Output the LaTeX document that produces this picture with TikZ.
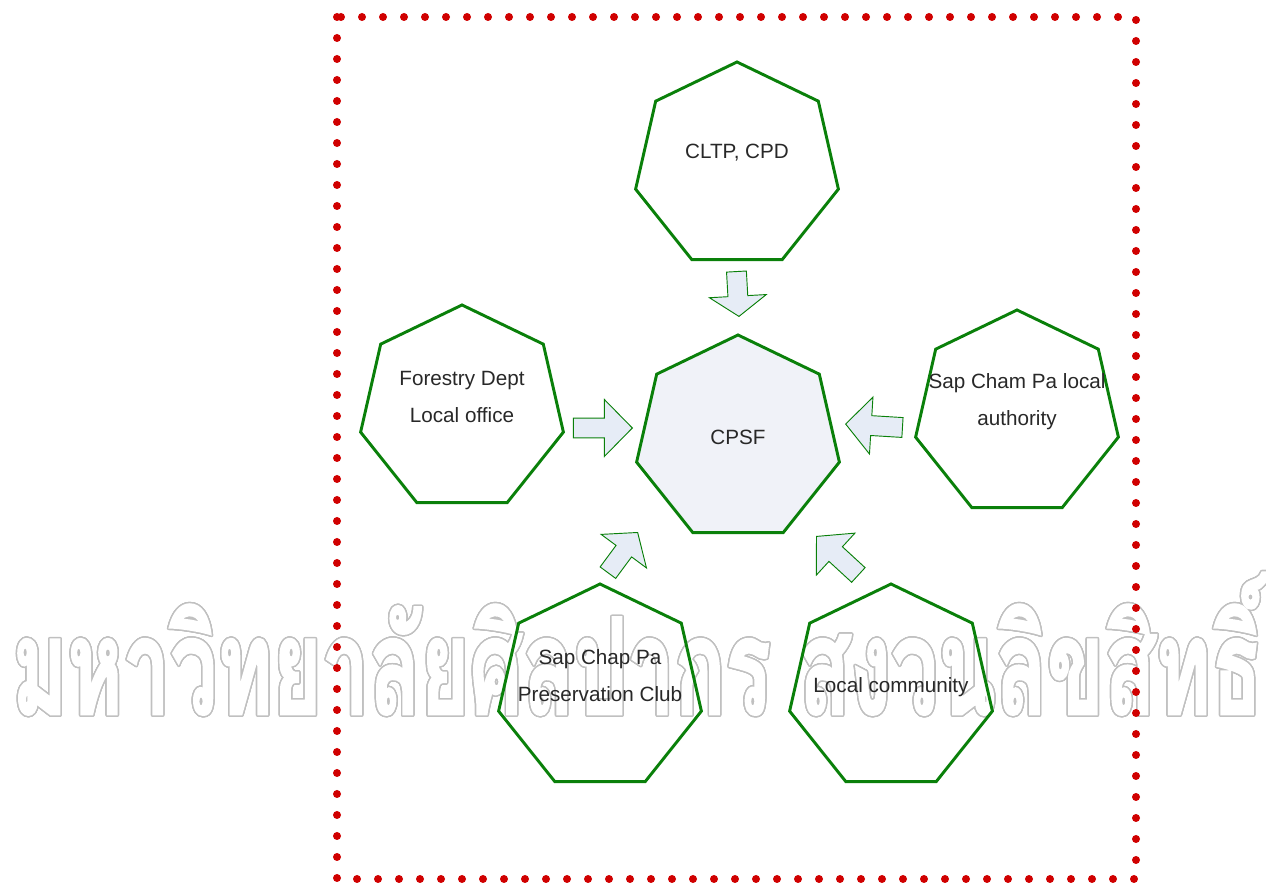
\documentclass[tikz,border=0pt]{standalone}
\usepackage{fontspec}
\setmainfont{Liberation Sans}
\newfontfamily\wmfont[Script=Thai, BoldFeatures={FakeBold=2}]{Loma}
\usepackage{contour}
\usetikzlibrary{shapes.geometric,shapes.arrows}

\definecolor{hepgreen}{RGB}{10,128,10}
\definecolor{dotred}{RGB}{208,0,0}
\definecolor{arrowfill}{RGB}{230,236,246}
\definecolor{corefill}{RGB}{240,242,248}
\definecolor{labelgray}{RGB}{40,40,40}
\definecolor{wmgray}{RGB}{192,192,192}

\contourlength{1.1pt}
\contournumber{24}

\begin{document}
\begin{tikzpicture}[x=0.75pt,y=0.75pt,
  hept/.style={regular polygon, regular polygon sides=7, minimum size=156pt,
    inner sep=0pt, outer sep=0pt, draw=hepgreen, line width=2.2pt},
  lbl/.style={font=\fontsize{15.5}{27.75}\selectfont, text=labelgray,
    align=center, inner sep=0pt},
  blockarrow/.style={single arrow, draw=hepgreen, line width=0.7pt,
    fill=arrowfill, inner sep=7.1pt, single arrow head extend=13.9pt,
    anchor=tip, minimum height=#1},
]
\useasboundingbox (0,0) rectangle (1266,884);

% watermark behind everything: hollow outlined letters
\node[anchor=base west, inner sep=0pt, text=white] (wm) at (12,170)
  {\contour{wmgray}{\resizebox{937.5pt}{106pt}{\wmfont\bfseries\fontsize{60}{60}\selectfont มหาวิทยาลัยศิลปากร สงวนลิขสิทธิ์}}};

% dotted frame
\draw[dotred, line width=6pt, line cap=round, dash pattern=on 0pt off 15.75pt]
  (337,867) rectangle (1136,5);

% heptagons
\node[hept] (cltp) at (737,718) {};
\node[hept, fill=corefill] (cpsf) at (738,445) {};
\node[hept] (forestry) at (462,475) {};
\node[hept] (champa) at (1017,470) {};
\node[hept] (chappa) at (600,196) {};
\node[hept] (community) at (891,196) {};

% labels
\node[lbl] (cltp-l) at (737,731) {CLTP, CPD};
\node[lbl] (cpsf-l) at (738,447) {CPSF};
\node[lbl] (forestry-l) at (462,487) {Forestry Dept\\Local office};
\node[lbl] (champa-l) at (1017,482) {Sap Cham Pa local\\authority};
\node[lbl] (chappa-l) at (600,208) {Sap Chap Pa\\Preservation Club};
\node[lbl] (community-l) at (891,197) {Local community};

% block arrows into the core
\node[blockarrow=33.7pt, single arrow tip angle=109, rotate=-86.8] (a-cltp) at (739,567) {};
\node[blockarrow=44.2pt, single arrow tip angle=91, rotate=0] (a-forestry) at (633,456) {};
\node[blockarrow=42.7pt, single arrow tip angle=96, rotate=176.5] (a-champa) at (845,460) {};
\node[blockarrow=37.5pt, single arrow tip angle=101, rotate=53.5, inner sep=6.9pt] (a-chappa) at (638,352) {};
\node[blockarrow=42.7pt, single arrow tip angle=95, rotate=137.4] (a-community) at (816,348) {};
\end{tikzpicture}
\end{document}
